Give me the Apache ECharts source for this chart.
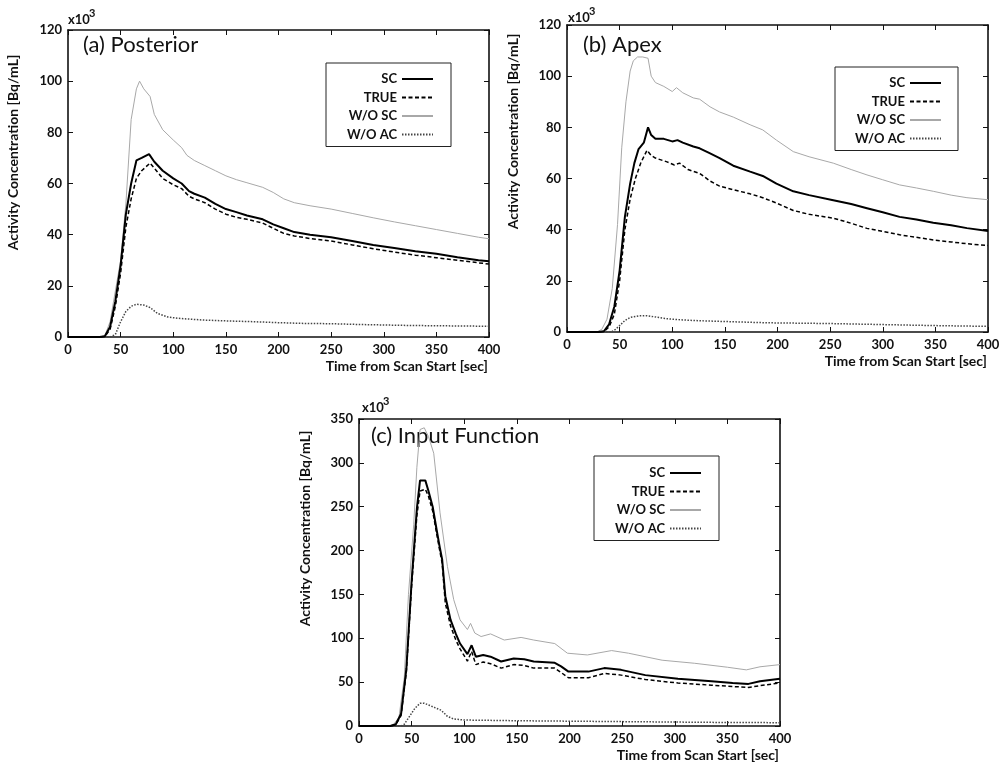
<!DOCTYPE html>
<html>
<head>
<meta charset="utf-8">
<script src="https://cdn.jsdelivr.net/npm/echarts@6/dist/echarts.min.js"></script>
<style>
  html, body { margin: 0; padding: 0; background: #fff; }
  #chart { width: 1003px; height: 766px; }
</style>
</head>
<body>
<div id="chart"></div>
<script>
/* time-activity curves, three panels; values in x10^3 Bq/mL, time in sec */

const seriesNames = ['SC', 'TRUE', 'W/O SC', 'W/O AC'];

// (a) Posterior
const postSC = [[0,0],[30,0],[35,0.3],[40,4],[45,14],[50,28],[55,48],[60,60],[65,69],[70,70],[77,71.5],[82,68.5],[90,65],[100,62],[108,60],[115,57],[120,56],[130,54.5],[140,52],[150,50],[160,48.8],[170,47.5],[185,46],[195,44],[205,42.5],[215,41],[230,40],[250,39],[270,37.5],[290,36],[310,34.8],[330,33.5],[350,32.5],[370,31.2],[390,30],[400,29.6]];
const postTRUE = [[0,0],[30,0],[35,0.2],[40,3],[45,12],[50,25],[55,43],[60,54],[65,62],[70,65],[78,68],[82,66],[90,62],[100,59.5],[108,58],[115,55],[120,54],[130,52.5],[140,50],[150,48],[160,46.8],[170,46],[185,44.5],[195,42.5],[205,40.5],[215,39.5],[230,38.5],[250,37.5],[270,36],[290,34.5],[310,33.2],[330,32],[350,31],[370,30],[390,29],[400,28.5]];
const postWOSC = [[0,0],[30,0],[35,0.5],[40,6],[45,18],[50,30],[55,52],[60,85],[65,97],[68,100],[72,97],[78,94],[82,87],[90,81],[100,77],[108,74],[113,71],[120,69],[130,67],[140,65],[150,63],[160,61.5],[170,60.3],[185,58.5],[195,56.5],[205,54],[215,52.5],[230,51.3],[250,50],[270,48.3],[290,46.6],[310,45],[330,43.5],[350,42],[370,40.5],[390,39],[400,38.4]];
const postWOAC = [[0,0],[40,0],[45,1],[50,6],[55,10],[60,12],[65,12.8],[72,12.5],[78,11.5],[85,9.2],[95,7.8],[105,7.3],[115,7],[130,6.6],[150,6.3],[175,6],[200,5.6],[225,5.3],[250,5.2],[275,4.9],[300,4.7],[325,4.5],[350,4.4],[375,4.3],[400,4.2]];

// (b) Apex
const apexSC = [[0,0],[30,0],[35,0.3],[40,3],[45,10],[50,24],[55,45],[60,58],[64,66],[68,71.5],[73,74],[77,80],[80,77],[84,75.5],[92,75.5],[100,74.5],[105,75],[110,74],[120,72.5],[126,71.8],[135,70],[145,68],[158,65],[174,62.7],[186,61],[199,58],[215,55],[230,53.5],[253,51.5],[270,50],[285,48.4],[300,46.8],[316,45],[332,44],[348,42.7],[365,41.7],[380,40.6],[400,39.5]];
const apexTRUE = [[0,0],[30,0],[35,0.2],[40,2],[45,7],[50,20],[55,40],[60,52],[65,60],[70,66],[76,71],[80,69],[84,68],[95,66.5],[102,65.3],[107,66],[115,63.5],[126,62],[136,59],[145,57],[158,55.6],[174,54],[186,52.5],[199,50.4],[215,47.5],[230,46],[253,44.5],[270,42.5],[285,40.5],[300,39.3],[316,38],[332,37],[348,36],[365,35.2],[380,34.5],[400,33.8]];
const apexWOSC = [[0,0],[28,0],[33,1],[38,5],[43,17],[48,42],[52,72],[56,90],[60,102],[63,106],[67,107.5],[72,107.5],[77,107],[80,100],[84,97.5],[92,96],[100,94],[104,95.5],[110,93.5],[120,91.5],[126,91],[136,88],[145,86],[158,84],[174,81],[186,79],[199,75],[215,70.5],[230,68.5],[253,66],[270,63.5],[285,61.4],[300,59.5],[316,57.5],[332,56.3],[348,55],[365,53.5],[380,52.5],[400,51.7]];
const apexWOAC = [[0,0],[42,0],[46,1],[50,2.5],[55,4.5],[60,5.7],[68,6.3],[76,6.4],[85,5.8],[95,5.2],[110,4.7],[126,4.4],[150,4.1],[190,3.6],[250,3.3],[300,2.9],[350,2.5],[400,2.2]];

// (c) Input Function
const inputSC = [[0,0],[30,0],[35,2],[40,14],[45,65],[50,165],[55,248],[58,280],[63,280],[66,268],[70,250],[74,222],[77,202],[79,190],[82,148],[87,121],[92,105],[96,94],[103,82],[107,92],[111,79],[118,81],[125,79],[135,73.5],[147,77],[157,76],[166,73.5],[186,72],[192,68],[199,62],[218,62],[233,66],[249,64],[272,58],[303,54],[335,51],[355,49],[370,48],[381,51],[400,54]];
const inputTRUE = [[0,0],[30,0],[35,1.5],[40,12],[45,62],[50,160],[55,240],[58,268],[63,270],[66,262],[70,245],[74,218],[77,198],[79,186],[82,140],[87,114],[92,98],[96,88],[103,74],[107,85],[111,70],[118,73],[125,71],[135,66],[147,70],[157,69],[166,66],[186,66],[192,61],[199,55],[218,55],[233,60],[249,58],[272,53],[303,49],[335,46.5],[355,45],[370,44],[381,46],[400,49]];
const inputWOSC = [[0,0],[28,0],[33,2],[38,10],[43,55],[47,150],[52,230],[55,295],[58,338],[62,340],[66,330],[71,311],[77,243],[84,182],[90,144],[96,121],[103,110],[106,117],[110,106],[116,102],[125,105],[138,98],[154,101],[166,98],[186,94],[198,83],[217,81],[240,86],[256,83],[288,75],[319,71.5],[350,67],[368,64],[381,67.5],[400,70]];
const inputWOAC = [[0,0],[40,0],[43,2],[48,11],[53,20],[58,26],[62,26],[66,24],[72,21],[78,18],[84,11],[90,8],[100,6.8],[120,6.5],[150,6],[200,5.5],[250,5],[300,4.5],[350,4],[400,3.8]];

const timeRange = [0, 400, 50];       // min, max, interval
const postRange = [0, 120, 20];
const apexRange = [0, 120, 20];
const inputRange = [0, 350, 50];

const FONT = 'Lato, "Open Sans", sans-serif';
const INK = '#111';

const lineStyles = {
  'SC':     { color: '#000', width: 2, type: 'solid' },
  'TRUE':   { color: '#000', width: 1.5, type: [4, 2.5] },
  'W/O SC': { color: '#a8a8a8', width: 1, type: 'solid' },
  'W/O AC': { color: '#444', width: 1.5, type: [1.5, 1.5] },
};

// expPos: [left, top of "x10", top of superscript "3"]
const panels = [
  { title: '(a) Posterior', data: [postSC, postTRUE, postWOSC, postWOAC], yr: postRange,
    grid: { left: 68, top: 30, width: 421, height: 307 },
    titlePos: [83, 34], expPos: [68, 13, 8], legendPos: [326, 63], legendPad: [8.5, 17, 4.5, 11],
    yNameGap: 48, yNameShift: 62 },
  { title: '(b) Apex', data: [apexSC, apexTRUE, apexWOSC, apexWOAC], yr: apexRange,
    grid: { left: 567, top: 25, width: 421, height: 307 },
    titlePos: [583, 34], expPos: [568, 11, 6], legendPos: [835, 67], legendPad: [8.5, 16, 4.5, 10],
    yNameGap: 47, yNameShift: 94 },
  { title: '(c) Input Function', data: [inputSC, inputTRUE, inputWOSC, inputWOAC], yr: inputRange,
    grid: { left: 359, top: 419, width: 421, height: 307 },
    titlePos: [371, 425], expPos: [362, 401, 396], legendPos: [594, 456], legendPad: [9.5, 17, 4.5, 11],
    yNameGap: 47, yNameShift: 88 },
];

function frameAxis(extra) {
  return Object.assign({
    type: 'value',
    axisLine: { show: true, onZero: false, lineStyle: { color: INK, width: 1.6 } },
    axisTick: { show: true, inside: true, length: 5, lineStyle: { color: INK, width: 1 } },
    splitLine: { show: false },
  }, extra);
}

const labelStyle = { color: INK, fontFamily: FONT, fontSize: 13, fontWeight: 'bold', margin: 6 };

const grids = [], xAxes = [], yAxes = [], series = [], titles = [], legends = [];

panels.forEach((p, i) => {
  grids.push(p.grid);
  const xr = { min: timeRange[0], max: timeRange[1], interval: timeRange[2] };
  const yr = { min: p.yr[0], max: p.yr[1], interval: p.yr[2] };
  xAxes.push(frameAxis(Object.assign({
    gridIndex: i, position: 'bottom',
    axisLabel: labelStyle,
    name: 'Time from Scan Start [sec]', nameLocation: 'end', nameGap: -1,
    nameTextStyle: { color: INK, fontFamily: FONT, fontSize: 14, fontWeight: 'bold',
      align: 'right', verticalAlign: 'top', padding: [22, 0, 0, 0] },
  }, xr)));
  xAxes.push(frameAxis(Object.assign({ gridIndex: i, position: 'top', axisLabel: { show: false } }, xr)));
  yAxes.push(frameAxis(Object.assign({
    gridIndex: i, position: 'left',
    axisLabel: labelStyle,
    name: 'Activity Concentration [Bq/mL]', nameLocation: 'middle', nameGap: p.yNameGap,
    nameTextStyle: { color: INK, fontFamily: FONT, fontSize: 14, fontWeight: 'bold',
      padding: [0, 0, 0, p.yNameShift] },
  }, yr)));
  yAxes.push(frameAxis(Object.assign({ gridIndex: i, position: 'right', axisLabel: { show: false } }, yr)));

  seriesNames.forEach((name, k) => {
    const ls = lineStyles[name];
    series.push({
      type: 'line', name, data: p.data[k],
      xAxisIndex: i * 2, yAxisIndex: i * 2,
      symbol: 'none', smooth: false, animation: false,
      color: ls.color,
      lineStyle: ls,
      z: 10 - k,
    });
  });

  titles.push({
    text: p.title, left: p.titlePos[0], top: p.titlePos[1], padding: 0,
    textStyle: { fontFamily: FONT, fontSize: 22, fontWeight: 'normal', color: INK },
  });
  titles.push({
    text: 'x10', left: p.expPos[0], top: p.expPos[1], padding: 0,
    textStyle: { fontFamily: FONT, fontSize: 13, fontWeight: 'bold', color: INK },
  });
  titles.push({
    text: '3', left: p.expPos[0] + 21, top: p.expPos[2], padding: 0,
    textStyle: { fontFamily: FONT, fontSize: 11, fontWeight: 'bold', color: INK },
  });

  legends.push({
    data: seriesNames, orient: 'vertical', align: 'right',
    left: p.legendPos[0], top: p.legendPos[1], padding: p.legendPad,
    itemWidth: 31, itemHeight: 8, itemGap: 3.5,
    itemStyle: { opacity: 0 },
    borderColor: '#222', borderWidth: 1, borderRadius: 0, backgroundColor: '#fff',
    selectedMode: false,
    textStyle: { color: INK, fontFamily: FONT, fontSize: 13, fontWeight: 'bold',
      width: 60, align: 'right', lineHeight: 15 },
  });
});

const chart = echarts.init(document.getElementById('chart'), null, { renderer: 'canvas' });
chart.setOption({
  backgroundColor: '#fff',
  animation: false,
  title: titles,
  legend: legends,
  grid: grids,
  xAxis: xAxes,
  yAxis: yAxes,
  series,
});
window.addEventListener('resize', () => chart.resize());
</script>
</body>
</html>
